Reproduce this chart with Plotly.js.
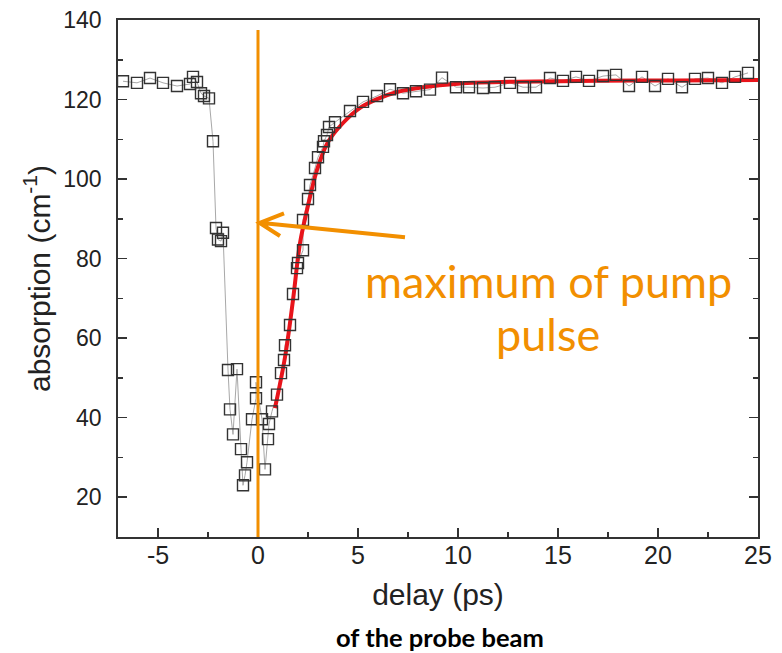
<!DOCTYPE html>
<html>
<head>
<meta charset="utf-8">
<script src="https://cdn.plot.ly/plotly-3.0.1.min.js"></script>
<style>html,body{margin:0;padding:0;background:#fff;}#chart{width:782px;height:653px;}</style>
</head>
<body>
<div id="chart"></div>
<script>
// measured data: delay (ps) and absorption (cm^-1)
const delay = [-6.75,-6.05,-5.4,-4.75,-4.05,-3.4,-3.25,-3.05,-2.85,-2.7,-2.45,-2.25,-2.1,-2.0,-1.85,-1.75,
  -1.5,-1.4,-1.25,-1.05,-0.85,-0.75,-0.65,-0.55,-0.3,-0.1,-0.1,0.2,0.35,0.5,0.55,0.7,0.95,1.15,1.3,1.35,
  1.6,1.75,1.95,2.0,2.25,2.25,2.5,2.6,2.85,3.0,3.25,3.3,3.45,3.55,3.85,4.6,5.25,5.95,6.6,7.25,7.9,8.6,
  9.2,9.9,10.55,11.25,11.85,12.6,13.25,13.9,14.6,15.25,15.9,16.55,17.25,17.9,18.55,19.2,19.85,20.5,
  21.2,21.85,22.5,23.2,23.85,24.5];
const absorption = [124.6,124.2,125.4,124.2,123.4,123.9,125.7,124.4,121.6,120.9,120.3,109.5,87.7,84.8,84.4,86.5,
  52.0,42.1,35.8,52.2,32.1,23.0,25.5,28.8,39.6,44.9,48.9,39.6,27.0,34.6,38.4,41.6,45.8,51.2,54.5,58.2,
  63.3,71.1,77.6,78.9,82.1,89.7,95.0,98.5,102.8,105.5,108.1,109.5,111.1,113.1,114.3,117.1,119.4,120.9,122.6,121.6,122.1,122.5,
  125.5,123.1,123.1,122.9,123.1,124.2,123.1,123.1,125.4,124.7,125.7,124.7,125.9,126.2,123.4,125.7,123.4,125.2,
  123.1,125.2,125.4,124.2,125.7,126.7];
// fitted recovery curve
const fitDelay = [0.85,1.35,1.75,2.1,2.45,2.95,3.5,4.25,5.1,5.95,6.95,8.25,10,13,17,21,25];
const fitAbs = [42.4,55.2,69.6,83.9,92.2,102.3,109.3,114.1,117.9,120.1,121.9,123.1,124.0,124.5,124.7,124.8,124.9];

const xTickVals = [-5,0,5,10,15,20,25];
const yTickVals = [20,40,60,80,100,120,140];

const orange = 'rgb(242,143,0)';
const xTickFont = {family:'Liberation Sans, Arial, sans-serif', size:25, color:'#222'};
const yTickFont = {family:'Liberation Sans, Arial, sans-serif', size:23, color:'#222'};
const titleFont = {family:'Liberation Sans, Arial, sans-serif', size:30, color:'#222'};

const traces = [
  {x:delay, y:absorption, type:'scatter', mode:'lines', line:{color:'#a8a8a8', width:1}, hoverinfo:'skip', showlegend:false},
  {x:fitDelay, y:fitAbs, type:'scatter', mode:'lines', line:{color:'#e8141b', width:4, shape:'spline'}, showlegend:false},
  {x:delay, y:absorption, type:'scatter', mode:'markers', marker:{symbol:'square-open', size:11, color:'#333', line:{width:1.4, color:'#333'}}, showlegend:false}
];

const layout = {
  width:782, height:653,
  margin:{l:118, r:24, t:20, b:116},
  paper_bgcolor:'#fff', plot_bgcolor:'#fff',
  showlegend:false,
  xaxis:{range:[-7,25], tickvals:xTickVals, ticktext:xTickVals.map(String), ticks:'inside', ticklen:9, tickwidth:1.5, tickcolor:'#333',
    minor:{dtick:2.5, tick0:0, ticks:'inside', ticklen:5, tickwidth:1.5, tickcolor:'#333'},
    showline:true, linecolor:'#333', linewidth:1.8, mirror:true, showgrid:false, zeroline:false,
    tickfont:xTickFont, ticklabelstandoff:-5,
    title:{text:'delay (ps)', font:titleFont, standoff:16}},
  yaxis:{range:[10,140], tickvals:yTickVals, ticktext:yTickVals.map(String), ticks:'inside', ticklen:9, tickwidth:1.5, tickcolor:'#333',
    minor:{dtick:10, tick0:0, ticks:'inside', ticklen:5, tickwidth:1.5, tickcolor:'#333'},
    showline:true, linecolor:'#333', linewidth:1.8, mirror:'ticks', showgrid:false, zeroline:false,
    tickfont:yTickFont, ticklabelstandoff:10,
    title:{text:'absorption (cm<sup>-1</sup>)', font:titleFont, standoff:4}},
  shapes:[
    {type:'line', xref:'x', yref:'y', x0:0, x1:0, y0:10, y1:137.5, line:{color:orange, width:3}},
    {type:'path', xref:'x', yref:'y', path:'M 1.3,91.4 L 0.08,89 L 1.1,85.7 M 0.08,89 L 7.35,85.4', line:{color:orange, width:4}}
  ],
  annotations:[
    {xref:'paper', yref:'paper', x:(548-118)/640, y:(537-281)/517, text:'maximum of pump', showarrow:false,
      font:{family:'Lato, sans-serif', size:45, color:orange}, xanchor:'center', yanchor:'middle'},
    {xref:'paper', yref:'paper', x:(548-118)/640, y:(537-334)/517, text:'pulse', showarrow:false,
      font:{family:'Lato, sans-serif', size:45, color:orange}, xanchor:'center', yanchor:'middle'},
    {xref:'paper', yref:'paper', x:(440-118)/640, y:(537-637)/517, text:'<b>of the probe beam</b>', showarrow:false,
      font:{family:'Lato, sans-serif', size:25.5, color:'#000'}, xanchor:'center', yanchor:'middle'}
  ]
};
Plotly.newPlot('chart', traces, layout, {displayModeBar:false, staticPlot:true});
</script>
</body>
</html>
